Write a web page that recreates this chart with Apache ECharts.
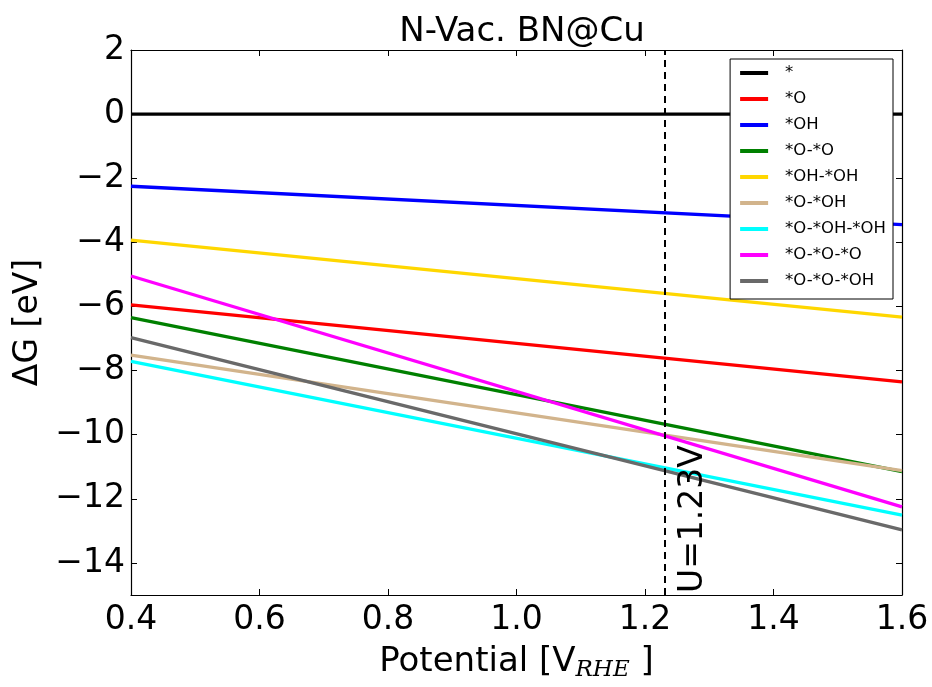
<!DOCTYPE html>
<html><head><meta charset="utf-8">
<script src="https://cdn.jsdelivr.net/npm/echarts@6/dist/echarts.min.js"></script>
<style>html,body{margin:0;padding:0;background:#fff}#c{width:932px;height:687px}</style>
</head><body><div id="c"></div>
<script>
const xPoints = [0.4, 1.6];
const seriesNames = ['*', '*O', '*OH', '*O-*O', '*OH-*OH', '*O-*OH', '*O-*OH-*OH', '*O-*O-*O', '*O-*O-*OH'];
const sStar      = [0, 0];
const sO         = [-5.95, -8.35];
const sOH        = [-2.25, -3.45];
const sOO        = [-6.35, -11.15];
const sOHOH      = [-3.93, -6.33];
const sOOH       = [-7.52, -11.12];
const sOOHOH     = [-7.71, -12.51];
const sOOO       = [-5.05, -12.25];
const sOOOH      = [-6.97, -12.97];
const seriesValues = [sStar, sO, sOH, sOO, sOHOH, sOOH, sOOHOH, sOOO, sOOOH];
const colors = ['#000000', '#ff0000', '#0000ff', '#008000', '#ffd700', '#d2b48c', '#00ffff', '#ff00ff', '#696969'];
const xTicks = [0.4, 0.6, 0.8, 1.0, 1.2, 1.4, 1.6];
const yTicks = [-14, -12, -10, -8, -6, -4, -2, 0, 2];
const vLine = 1.23;
const vLabel = 'U=1.23V';

const FONT = 'DejaVu Sans';
const fmtY = v => (v < 0 ? '\u2212' + Math.abs(v) : String(v));
const fmtX = v => v.toFixed(1);

const series = seriesNames.map((n, i) => ({
  name: n, type: 'line', symbol: 'none', showSymbol: false, color: colors[i],
  lineStyle: { width: 3.3, color: colors[i] },
  itemStyle: { color: colors[i] },
  data: xPoints.map((x, j) => [x, seriesValues[i][j]]),
  z: 3
}));
series.push({
  name: 'ref', type: 'line', data: [], symbol: 'none',
  markLine: {
    silent: true, symbol: 'none',
    lineStyle: { type: [7, 5], color: '#000', width: 2 },
    label: { show: true, formatter: vLabel, position: 'insideStartBottom', fontFamily: FONT, fontSize: 33, color: '#000', distance: [2, 13] },
    data: [{ xAxis: vLine }]
  }
});

const tickStyle = { inside: true, length: 6, lineStyle: { color: '#000', width: 1 } };
const axisLn = { show: true, onZero: false, lineStyle: { color: '#000', width: 1.2 } };

const chart = echarts.init(document.getElementById('c'));
chart.setOption({
  animation: false,
  title: { text: 'N-Vac. BN@Cu', left: 517, top: 10, textAlign: 'center',
    textStyle: { fontFamily: FONT, fontSize: 34, fontWeight: 'normal', color: '#000' } },
  grid: { left: 131, top: 50, right: 30, bottom: 89 },
  legend: {
    data: seriesNames, orient: 'vertical', right: 39, top: 59,
    icon: 'rect', itemWidth: 28, itemHeight: 4, itemGap: 8,
    backgroundColor: '#fff', borderColor: '#000', borderWidth: 1,
    padding: [5, 7, 9, 10],
    textStyle: { fontFamily: FONT, fontSize: 16.5, lineHeight: 18, color: '#000', padding: [0, 0, 0, 12] }
  },
  xAxis: [{
    type: 'value', min: 0.4, max: 1.6, interval: 0.2,
    name: 'Potential [V{sub|RHE} ]', nameLocation: 'middle', nameGap: 48,
    nameTextStyle: { fontFamily: FONT, fontSize: 34, color: '#000',
      rich: { sub: { fontFamily: 'DejaVu Serif', fontStyle: 'italic', fontSize: 23, verticalAlign: 'bottom', padding: [16, 0, 0, 0] } } },
    axisLine: axisLn, axisTick: tickStyle,
    axisLabel: { fontFamily: FONT, fontSize: 33, color: '#000', margin: 9, formatter: fmtX },
    splitLine: { show: false }
  }, {
    type: 'value', position: 'top', min: 0.4, max: 1.6, interval: 0.2,
    axisLine: axisLn, axisTick: tickStyle,
    axisLabel: { show: false }, splitLine: { show: false }
  }],
  yAxis: [{
    type: 'value', min: -15, max: 2,
    name: '\u0394G [eV]', nameLocation: 'middle', nameGap: 86, nameRotate: 90,
    nameTextStyle: { fontFamily: FONT, fontSize: 33, color: '#000' },
    axisLine: axisLn,
    axisTick: Object.assign({ show: true, customValues: yTicks }, tickStyle),
    axisLabel: { fontFamily: FONT, fontSize: 33, color: '#000', margin: 6, formatter: fmtY, customValues: yTicks },
    splitLine: { show: false }
  }, {
    type: 'value', position: 'right', min: -15, max: 2,
    axisLine: axisLn,
    axisTick: Object.assign({ show: true, customValues: yTicks }, tickStyle),
    axisLabel: { show: false }, splitLine: { show: false }
  }],
  series: series
});
</script></body></html>
